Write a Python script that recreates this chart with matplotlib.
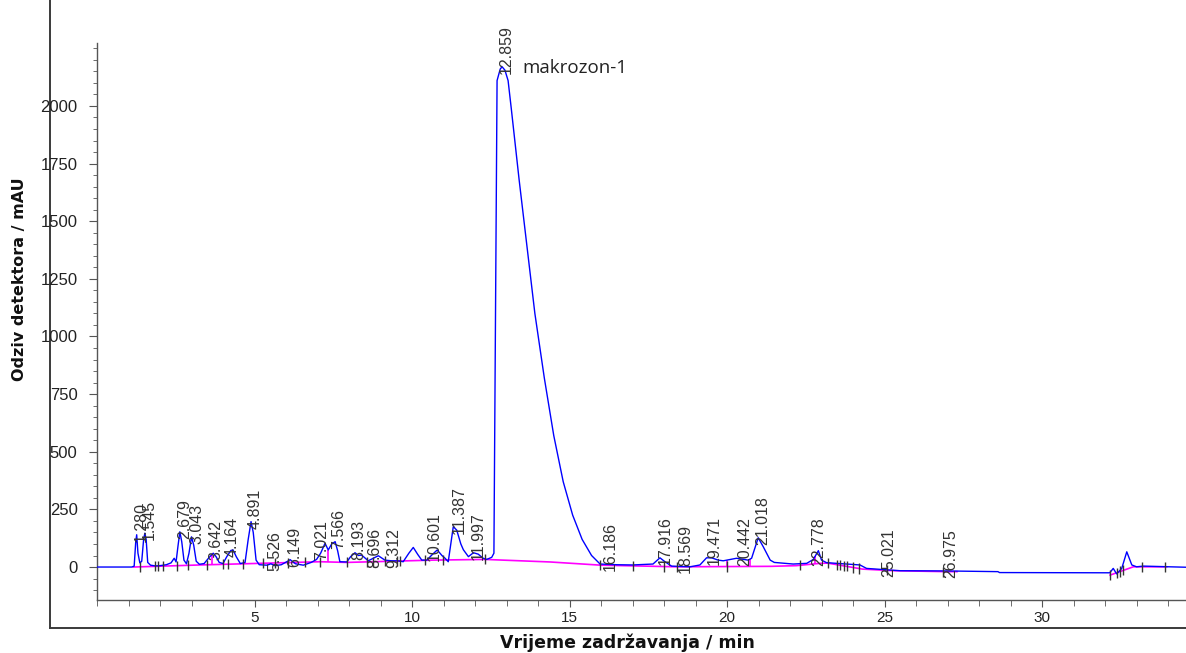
import numpy as np
import matplotlib
matplotlib.use('Agg')
import matplotlib.pyplot as plt
from matplotlib.ticker import MultipleLocator

# chromatogram trace (time / min, signal / mAU)
time_min = [0.0, 1.10, 1.18, 1.23, 1.26, 1.30, 1.36, 1.42, 1.48, 1.52, 1.56, 1.61, 1.70,
            1.85, 2.00, 2.20, 2.35, 2.45, 2.51, 2.57, 2.63, 2.69, 2.76, 2.84, 2.92,
            3.00, 3.07, 3.15, 3.25, 3.40, 3.55, 3.69, 3.78, 3.88, 4.00, 4.12, 4.25,
            4.32, 4.42, 4.55, 4.70, 4.80, 4.89, 4.96, 5.05, 5.15, 5.40, 5.52, 5.65,
            5.85, 6.05, 6.13, 6.30, 6.55, 6.80, 6.97, 7.10, 7.24, 7.34, 7.45, 7.56,
            7.64, 7.71, 7.93, 8.05, 8.19, 8.30, 8.40, 8.61, 8.80, 8.93, 9.14, 9.35,
            9.56, 9.72, 9.90, 10.04, 10.18, 10.31, 10.47, 10.65, 10.80, 10.95, 11.05,
            11.15, 11.24, 11.31, 11.42, 11.55, 11.63, 11.79, 11.95, 12.10, 12.26,
            12.37, 12.53, 12.60, 12.70, 12.80, 12.86, 12.95, 13.05, 13.15, 13.40,
            13.65, 13.90, 14.20, 14.50, 14.80, 15.10, 15.40, 15.70, 15.97, 16.50,
            17.00, 17.65, 17.87, 18.03, 18.24, 18.83, 19.14, 19.35, 19.51, 19.72,
            19.88, 20.10, 20.30, 20.67, 20.78, 20.99, 21.15, 21.37, 21.50, 22.10,
            22.53, 22.74, 22.90, 23.00, 23.16, 23.80, 24.22, 24.43, 24.86, 25.49,
            26.97, 28.60, 28.65, 32.15, 32.26, 32.37, 32.53, 32.69, 32.85, 33.00,
            33.22, 34.60]
signal_mau = [0, 0, 4, 110, 140, 60, 18, 25, 120, 147, 120, 20, 8,
              5, 6, 10, 18, 38, 22, 90, 153, 110, 30, 14, 60,
              131, 95, 25, 12, 15, 40, 60, 45, 20, 15, 45, 72,
              74, 45, 15, 20, 120, 197, 150, 30, 10, 8, 14, 6,
              10, 25, 32, 14, 8, 20, 33, 60, 103, 74, 100, 110,
              70, 23, 22, 45, 62, 50, 52, 27, 40, 49, 30, 27,
              27, 23, 60, 85, 55, 30, 30, 55, 74, 50, 38,
              23, 110, 175, 160, 100, 75, 45, 62, 56, 38,
              33, 42, 60, 2110, 2160, 2170, 2155, 2110, 1990, 1680,
              1390, 1100, 820, 570, 370, 225, 120, 50, 13, 10,
              9, 13, 40, 23, 4, 1, 9, 40, 40, 30,
              27, 33, 38, 30, 38, 127, 88, 30, 20, 13,
              16, 33, 71, 30, 19, 13, 9, -6, -10, -16,
              -17, -20, -24, -25, -6, -30, -6, 66, 9, 1,
              4, -1]

# integration baseline (magenta)
base1_t = [1.15, 3.27, 7.08, 7.93, 10.68, 12.32, 14.38, 16.0, 18.4, 21.4, 22.2,
           22.95, 23.2, 24.3, 25.3, 26.97, 27.3]
base1_v = [0, 9, 23, 20, 30, 33, 22, 8, 1, 3, 6, 16, 17, -9, -16, -20, -20]
base2_t = [32.16, 32.9, 33.96]
base2_v = [-35, 1, 1]

# drop lines and peak start/end marks
drop_t = [3.64, 7.34, 19.99, 20.73, 22.80]
mark_t = [1.37, 1.84, 1.94, 2.10, 2.54, 2.89, 3.49, 4.00, 4.16, 4.63, 5.27, 5.65,
          6.06, 6.60, 7.08, 7.94, 8.57, 8.76, 9.14, 9.51, 9.62, 10.41, 10.99,
          12.32, 15.97, 17.0, 18.0, 18.4, 19.99, 22.32, 23.2, 23.5, 23.6, 23.7,
          23.8, 24.0, 24.2, 25.07, 26.86, 32.16, 32.37, 32.48, 32.58, 33.16, 33.9]

peak_labels = ["1.280", "1.545", "2.679", "3.043", "3.642", "4.164", "4.891",
               "5.526", "6.149", "7.021", "7.566", "8.193", "8.696", "9.312",
               "10.601", "11.387", "11.997", "12.859", "16.186", "17.916",
               "18.569", "19.471", "20.442", "21.018", "22.778", "25.021", "26.975"]

W, H = 1186, 653
fig = plt.figure(figsize=(W / 100, H / 100), dpi=100)

# outer frame
outer = fig.add_axes([50 / W, 25 / H, 1 - 50 / W, 1 - 25 / H], zorder=0)
outer.set_xticks([])
outer.set_yticks([])
for sp in ['top', 'right']:
    outer.spines[sp].set_visible(False)
for sp in ['left', 'bottom']:
    outer.spines[sp].set_color('#3a3a3a')
    outer.spines[sp].set_linewidth(1.4)
outer.patch.set_alpha(0)

ax = fig.add_axes([97 / W, 53 / H, 1 - 97 / W, 557 / H], zorder=1)
ax.patch.set_alpha(0)

t = np.array(time_min)
s = np.array(signal_mau)

ax.plot(base1_t, base1_v, color='#ff00ff', lw=1.2, zorder=2)
ax.plot(base2_t, base2_v, color='#ff00ff', lw=1.2, zorder=2)

drop_lo = np.interp(drop_t, base1_t, base1_v)
drop_hi = np.interp(drop_t, t, s)
ax.vlines(drop_t, drop_lo, drop_hi, color='#ff00ff', lw=1.2, zorder=2)

ax.plot(t, s, color='#0000ff', lw=1.0, zorder=3)

mark_t = np.array(mark_t)
mark_base = np.where(mark_t > 30, np.interp(mark_t, base2_t, base2_v),
                     np.interp(mark_t, base1_t, base1_v))
ax.vlines(mark_t, mark_base - 22, mark_base + 22, color='#333333', lw=1.0, zorder=4)

for lab in peak_labels:
    rt = float(lab)
    win = (t >= rt - 0.1) & (t <= rt + 0.1)
    top = s[win].max() if win.any() else np.interp(rt, t, s)
    ax.text(rt + 0.12, top - 30, lab, rotation=90, ha='center', va='bottom',
            fontsize=11.5, color='#333333', family='Liberation Sans', zorder=5)

ax.text(13.49, 2165, 'makrozon-1', ha='left', va='center', fontsize=13.5,
        color='#222222', family='Open Sans')

ax.set_xlim(0, 34.57)
ax.set_ylim(-143, 2273)
ax.xaxis.set_minor_locator(MultipleLocator(1))
ax.yaxis.set_minor_locator(MultipleLocator(50))
ax.set_xticks([5, 10, 15, 20, 25, 30])
ax.set_yticks(np.arange(0, 2001, 250))

for sp in ['top', 'right']:
    ax.spines[sp].set_visible(False)
for sp in ['left', 'bottom']:
    ax.spines[sp].set_color('#555555')
    ax.spines[sp].set_linewidth(1.0)

ax.tick_params(axis='both', which='major', direction='out', color='#555555',
               labelcolor='#222222', labelsize=12)
ax.tick_params(axis='y', which='major', length=6, pad=8)
ax.tick_params(axis='y', which='minor', length=3, color='#555555')
ax.tick_params(axis='x', which='major', length=5, pad=3, labelsize=11)
ax.tick_params(axis='x', which='minor', length=4, color='#555555')
for lbl in ax.get_xticklabels() + ax.get_yticklabels():
    lbl.set_family('Liberation Sans')

fig.text(20 / W, 1 - 279 / H, 'Odziv detektora / mAU', rotation=90, ha='center',
         va='center', fontsize=11.5, fontweight='bold', color='#111111')
fig.text(627 / W, 1 - 643 / H, 'Vrijeme zadržavanja / min', ha='center',
         va='center', fontsize=12.5, fontweight='bold', color='#111111')

fig.savefig('out.png', dpi=100)
